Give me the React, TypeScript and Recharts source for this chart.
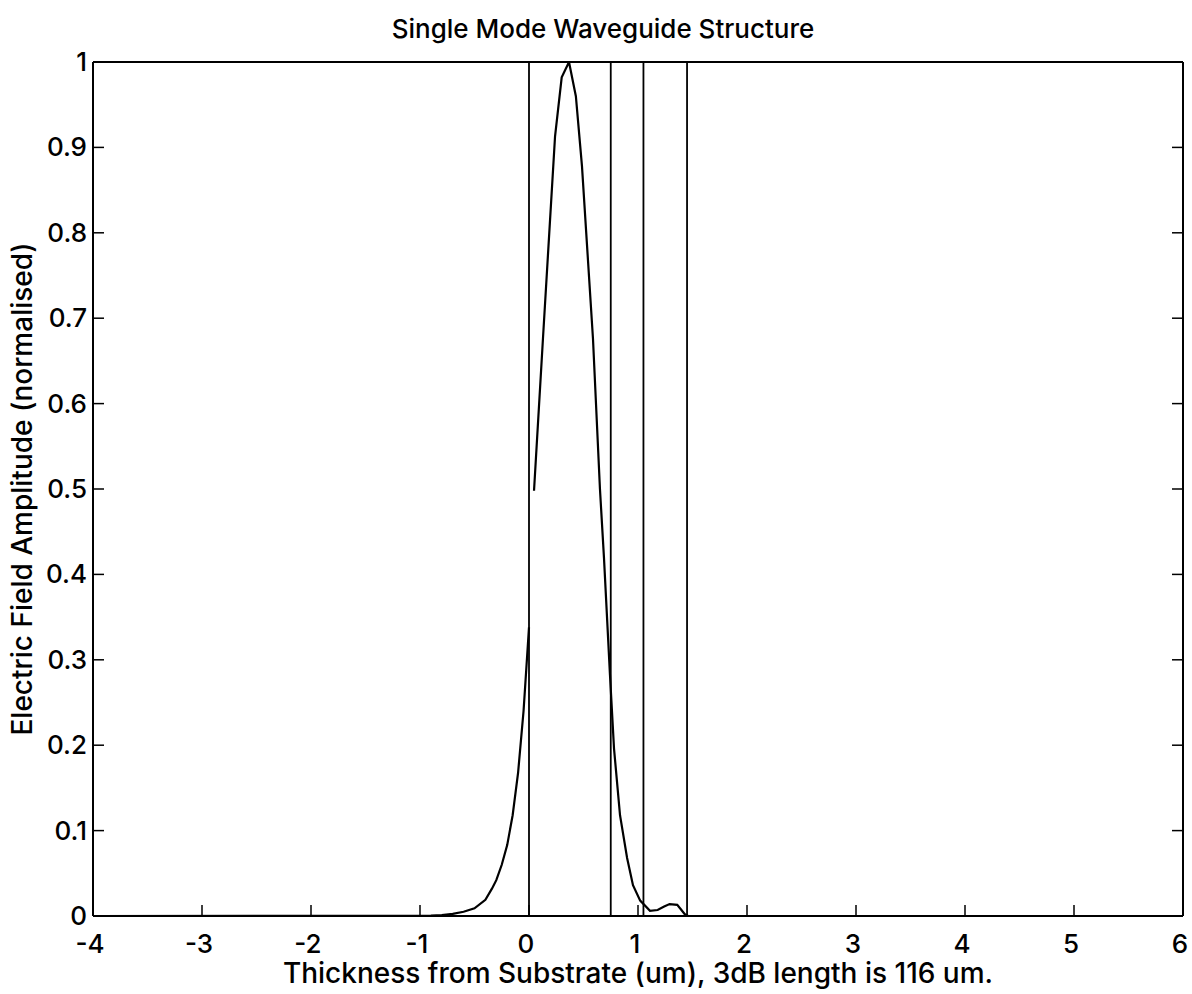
import { LineChart, Line, XAxis, YAxis, ReferenceLine } from 'recharts';

// axis ticks
const xTicks = [-4, -3, -2, -1, 0, 1, 2, 3, 4, 5, 6];
const yTicks = [0, 0.1, 0.2, 0.3, 0.4, 0.5, 0.6, 0.7, 0.8, 0.9, 1];

// layer interfaces of the structure (um)
const layerBoundaries = [0, 0.75, 1.05, 1.45];

// field in the substrate (x <= 0)
const substrateX = [-4, -1, -0.9, -0.8, -0.7, -0.6, -0.5, -0.4, -0.34, -0.3, -0.25, -0.2, -0.15, -0.1, -0.05, 0];
const substrateField = [0, 0.0003, 0.0006, 0.0012, 0.0025, 0.005, 0.009, 0.019, 0.032, 0.042, 0.06, 0.083, 0.118, 0.168, 0.24, 0.338];

// field in the guiding layers and cover
const guideX = [0.046, 0.128, 0.239, 0.3, 0.367, 0.43, 0.486, 0.587, 0.651, 0.688, 0.743, 0.78, 0.835, 0.9, 0.954, 1.02, 1.11, 1.18, 1.24, 1.29, 1.36, 1.43, 1.46, 6];
const guideField = [0.498, 0.676, 0.913, 0.982, 1.0, 0.96, 0.878, 0.676, 0.5, 0.419, 0.282, 0.196, 0.118, 0.068, 0.036, 0.018, 0.006, 0.007, 0.011, 0.014, 0.013, 0.002, 0, 0];

const substrateData = substrateX.map((x, i) => ({ x, field: substrateField[i] }));
const guideData = guideX.map((x, i) => ({ x, field: guideField[i] }));

const FONT = 'Inter, "Liberation Sans", Arial, sans-serif';
const TICK_LEN = 11;

const BottomTick = ({ x, y, payload }: any) => (
  <g>
    <line x1={x} x2={x} y1={y} y2={y - TICK_LEN} stroke="#000" strokeWidth={1.5} />
    <text x={x - 3} y={y + 37} textAnchor="middle" fontSize={26} fontWeight={500} fontFamily={FONT} fill="#000">
      {payload.value}
    </text>
  </g>
);

const TopTick = ({ x, y }: any) => (
  <line x1={x} x2={x} y1={y} y2={y + TICK_LEN} stroke="#000" strokeWidth={1.5} />
);

const LeftTick = ({ x, y, payload }: any) => (
  <g>
    <line x1={x} x2={x + TICK_LEN} y1={y} y2={y} stroke="#000" strokeWidth={1.5} />
    <text x={x - 6} y={y + 9} textAnchor="end" fontSize={26} fontWeight={500} fontFamily={FONT} fill="#000">
      {payload.value}
    </text>
  </g>
);

const RightTick = ({ x, y }: any) => (
  <line x1={x} x2={x - TICK_LEN} y1={y} y2={y} stroke="#000" strokeWidth={1.5} />
);

const axisStroke = { stroke: '#000', strokeWidth: 2 };

export default function App() {
  return (
    <div style={{ position: 'absolute', left: 0, top: 0, width: 1192, height: 994, background: '#fff' }}>
      <div
        style={{
          position: 'absolute',
          left: 303,
          width: 600,
          top: 13,
          textAlign: 'center',
          fontFamily: FONT,
          fontSize: 26,
          fontWeight: 500,
          lineHeight: '32px',
          color: '#000',
        }}
      >
        Single Mode Waveguide Structure
      </div>
      <LineChart width={1192} height={994} margin={{ top: 60, right: 0, bottom: 0, left: 13 }}>
        <XAxis
          dataKey="x"
          type="number"
          domain={[-4, 6]}
          ticks={xTicks}
          allowDataOverflow
          height={78}
          tickSize={0}
          tickMargin={0}
          tickLine={false}
          axisLine={axisStroke}
          tick={(p: any) => <BottomTick {...p} />}
          label={{
            value: 'Thickness from Substrate (um), 3dB length is 116 um.',
            position: 'insideBottom',
            offset: 11,
            style: { fontSize: 28, fontWeight: 500, fontFamily: FONT, fill: '#000' },
          }}
        />
        <XAxis
          xAxisId="top"
          orientation="top"
          type="number"
          domain={[-4, 6]}
          ticks={xTicks}
          allowDataOverflow
          height={2}
          tickSize={0}
          tickMargin={0}
          tickLine={false}
          axisLine={axisStroke}
          tick={(p: any) => <TopTick {...p} />}
        />
        <YAxis
          type="number"
          domain={[0, 1]}
          ticks={yTicks}
          allowDataOverflow
          width={80}
          tickSize={0}
          tickMargin={0}
          tickLine={false}
          axisLine={axisStroke}
          tick={(p: any) => <LeftTick {...p} />}
          label={{
            value: 'Electric Field Amplitude (normalised)',
            angle: -90,
            position: 'insideLeft',
            offset: 9,
            style: { fontSize: 28, fontWeight: 500, fontFamily: FONT, fill: '#000', textAnchor: 'middle' },
          }}
        />
        <YAxis
          yAxisId="right"
          orientation="right"
          type="number"
          domain={[0, 1]}
          ticks={yTicks}
          allowDataOverflow
          width={9}
          tickSize={0}
          tickMargin={0}
          tickLine={false}
          axisLine={axisStroke}
          tick={(p: any) => <RightTick {...p} />}
        />
        {layerBoundaries.map((b) => (
          <ReferenceLine key={b} x={b} stroke="#000" strokeWidth={1.8} />
        ))}
        <Line
          data={substrateData}
          dataKey="field"
          type="linear"
          stroke="#000"
          strokeWidth={2.2}
          dot={false}
          activeDot={false}
          isAnimationActive={false}
        />
        <Line
          data={guideData}
          dataKey="field"
          type="linear"
          stroke="#000"
          strokeWidth={2.2}
          dot={false}
          activeDot={false}
          isAnimationActive={false}
        />
      </LineChart>
    </div>
  );
}
